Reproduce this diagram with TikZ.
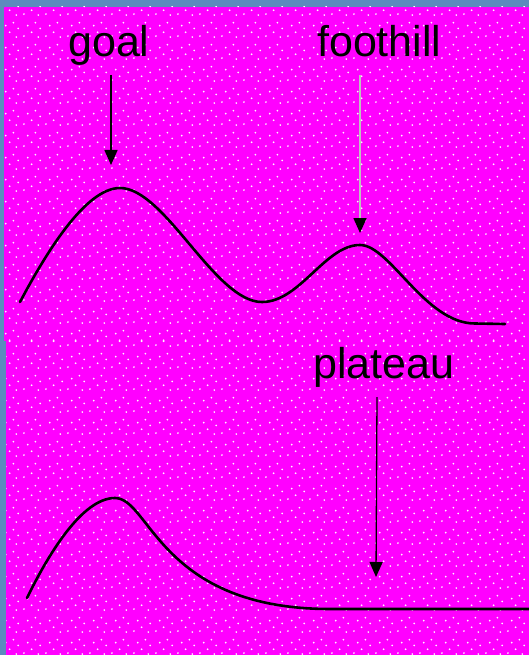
\documentclass[tikz,border=0pt]{standalone}
\usepackage{fontspec}
\setmainfont{Liberation Sans}
\usetikzlibrary{arrows.meta,patterns}
\definecolor{frameblue}{RGB}{94,138,190}
\definecolor{bgmag}{RGB}{255,0,255}
\definecolor{dotcol}{RGB}{255,245,255}
\pgfdeclarepatternformonly{pinkdots}{\pgfpointorigin}{\pgfpoint{22pt}{22pt}}{\pgfpoint{22pt}{22pt}}{%
  \pgfpathcircle{\pgfpoint{2pt}{3pt}}{1pt}%
  \pgfpathcircle{\pgfpoint{10pt}{7pt}}{1pt}%
  \pgfpathcircle{\pgfpoint{17pt}{2pt}}{1pt}%
  \pgfpathcircle{\pgfpoint{6pt}{14pt}}{1pt}%
  \pgfpathcircle{\pgfpoint{14pt}{17pt}}{1pt}%
  \pgfpathcircle{\pgfpoint{19pt}{11pt}}{1pt}%
  \pgfusepath{fill}%
}
\tikzset{
  lbl/.style={inner sep=0pt, anchor=base west, font=\fontsize{43}{50}\selectfont},
  curve/.style={line width=2.6pt, black, line cap=round, line join=round},
  pointer/.style={line width=1.6pt, -{Triangle[width=13pt,length=15pt]}},
}
\begin{document}
\begin{tikzpicture}[x=1pt,y=-1pt]
\useasboundingbox (0,0) rectangle (529,655);
% frame and background
\fill[frameblue] (0,0) rectangle (529,655);
\fill[bgmag] (4,7) rectangle (529,341);
\fill[bgmag] (6,341) rectangle (529,655);
\fill[pattern=pinkdots, pattern color=dotcol] (4,7) rectangle (529,341);
\fill[pattern=pinkdots, pattern color=dotcol] (6,341) rectangle (529,655);

% labels
\node[lbl] (goal) at (68,57) {goal};
\node[lbl] (foothill) at (317,57) {foothill};
\node[lbl] (plateau) at (313,378) {plateau};

% top curve
\draw[curve] (20,302) .. controls (45,255) and (85,188) .. (120,188)
  .. controls (165,188) and (215,302) .. (262,302)
  .. controls (300,302) and (325,245) .. (360,245)
  .. controls (390,245) and (425,323.5) .. (475,323.5)
  -- (505,324);

% bottom curve
\draw[curve] (27,598) .. controls (48,555) and (82,498) .. (115,498)
  .. controls (150,498) and (160,609) .. (330,609)
  -- (529,609);

% arrows
\coordinate (g1) at (111,75);
\coordinate (g2) at (111,165);
\coordinate (f1) at (360,75);
\coordinate (f2) at (360,233);
\coordinate (p1) at (377,397);
\coordinate (p2) at (376,577);
\draw[pointer, black] (g1) -- (g2);
\draw[pointer, black!25, -{Triangle[width=13pt,length=15pt,color=black]}] (f1) -- (f2);
\draw[pointer, black, line width=1.3pt] (p1) -- (p2);
\end{tikzpicture}
\end{document}
